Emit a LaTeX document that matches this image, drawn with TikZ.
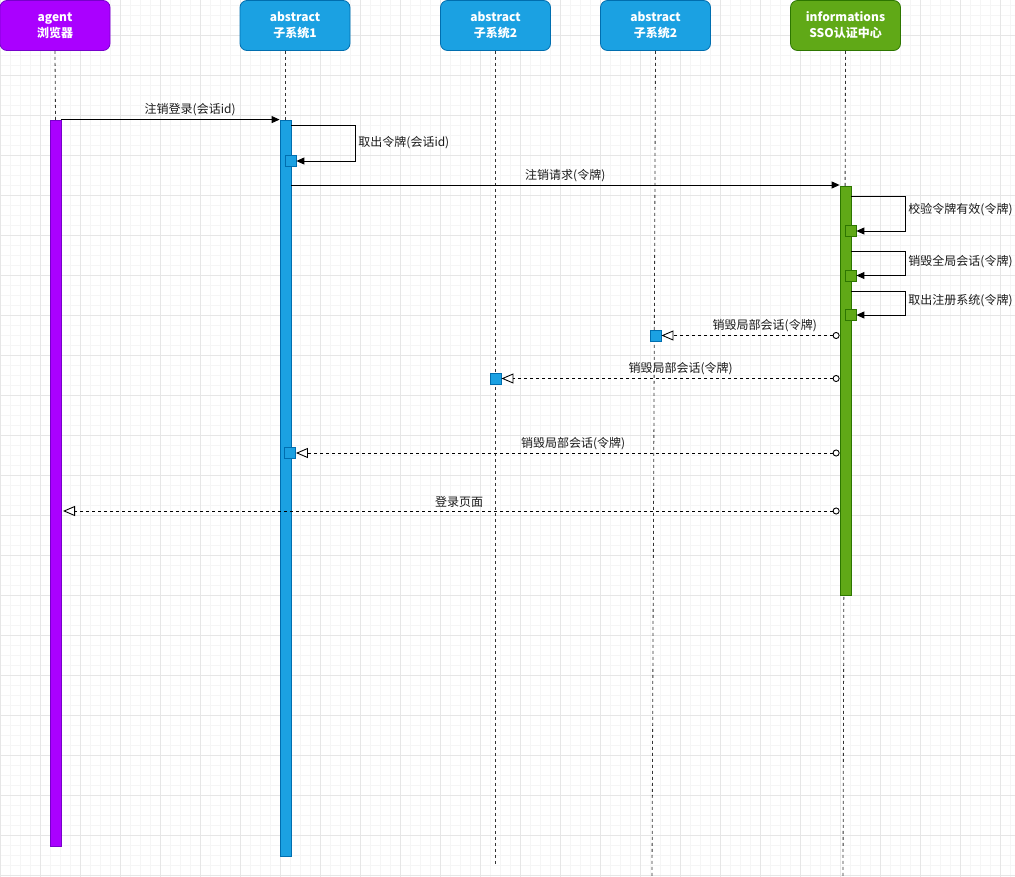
\documentclass[tikz,border=0pt]{standalone}
\usepackage{fontspec}
\setmainfont{Noto Sans CJK SC}
\usetikzlibrary{arrows.meta}
\definecolor{purp}{HTML}{AA00FF}
\definecolor{purpd}{HTML}{7700CC}
\definecolor{blu}{HTML}{1BA1E2}
\definecolor{blud}{HTML}{006EAF}
\definecolor{grn}{HTML}{60A917}
\definecolor{grnd}{HTML}{2D7600}
\definecolor{gmin}{HTML}{F5F5F5}
\definecolor{gmaj}{HTML}{E6E6E6}
\definecolor{txt}{HTML}{1A1A1A}
\begin{document}
\begin{tikzpicture}[x=1pt,y=-1pt,
 head/.style={rounded corners=7pt, minimum width=110pt, minimum height=50pt, inner sep=0pt, text=white, font=\fontsize{12}{16}\selectfont\bfseries, align=center, line width=0.8pt},
 life/.style={draw=black!80, dash pattern=on 3pt off 3pt, line width=0.8pt},
 bar/.style={minimum width=11pt, inner sep=0pt, line width=0.8pt},
 act/.style={minimum width=11pt, minimum height=11pt, inner sep=0pt, line width=0.8pt},
 msg/.style={draw=black, line width=0.9pt, -{Triangle[length=8pt,width=7pt]}},
 ret/.style={draw=black, line width=0.9pt, dash pattern=on 3pt off 3pt, {Circle[open,length=7pt,width=7pt,fill=white]}-{Triangle[open,length=12pt,width=10pt,fill=white]}},
 lbl/.style={font=\fontsize{12}{14}\selectfont, text=txt, inner sep=3pt},
]
\useasboundingbox (0,0) rectangle (1015,877);
\fill[white] (0,0) rectangle (1015,877);
% grid
\foreach \x in {0,10,...,1010} \draw[gmin, line width=0.6pt] (\x,0) -- (\x,877);
\foreach \y in {5,15,...,875} \draw[gmin, line width=0.6pt] (0,\y) -- (1015,\y);
\foreach \x in {0,40,...,1000} \draw[gmaj, line width=0.8pt] (\x,0) -- (\x,877);
\foreach \y in {35,75,...,875} \draw[gmaj, line width=0.8pt] (0,\y) -- (1015,\y);

% heads
\node[head, fill=purp, draw=purpd] (hA) at (55,25.5) {agent\\浏览器};
\node[head, fill=blu, draw=blud] (hB) at (295,25.5) {abstract\\子系统1};
\node[head, fill=blu, draw=blud] (hC) at (495.5,25.5) {abstract\\子系统2};
\node[head, fill=blu, draw=blud] (hD) at (655.5,25.5) {abstract\\子系统2};
\node[head, fill=grn, draw=grnd] (hE) at (845.5,25.5) {informations\\SSO认证中心};

% lifelines
\coordinate (lA) at (55.5,120);
\coordinate (lB) at (285.5,120);
\coordinate (lC) at (495.5,866);
\coordinate (lD) at (652,877);
\coordinate (lE) at (843,877);
\draw[life] (hA.south) -- (lA);
\draw[life] (hB.south -| lB) -- (lB);
\draw[life] (hC.south) -- (lC);
\draw[life] (hD.south) -- (lD);
\draw[life] (hE.south) -- (lE);

% activation bars
\node[bar, fill=purp, draw=purpd, minimum height=726pt] (barA) at (55.5,483) {};
\node[bar, fill=blu, draw=blud, minimum height=736pt] (barB) at (285.5,488) {};
\node[bar, fill=grn, draw=grnd, minimum height=409pt] (barE) at (845.5,390.5) {};

% small activations
\node[act, fill=blu, draw=blud] (sB1) at (290.5,161) {};
\node[act, fill=grn, draw=grnd] (sE1) at (850.5,231) {};
\node[act, fill=grn, draw=grnd] (sE2) at (850.5,275.5) {};
\node[act, fill=grn, draw=grnd] (sE3) at (850.5,315) {};
\node[act, fill=blu, draw=blud] (sD) at (655.5,335.5) {};
\node[act, fill=blu, draw=blud] (sC) at (495.5,378.5) {};
\node[act, fill=blu, draw=blud] (sB2) at (290,453) {};

% messages
\draw[msg] (barA.north east) -- node[lbl, pos=0.59, above] {注销登录(会话id)} (barB.north west);

\coordinate (c1) at (291,125);
\draw[msg] (c1) -- ++(64,0) |- node[lbl, pos=0.25, right] {取出令牌(会话id)} (sB1.east);

\coordinate (c2) at (291,185);
\draw[msg] (c2) -- node[lbl, midway, above] {注销请求(令牌)} (c2 -| barE.west);

\coordinate (c3) at (851,196);
\draw[msg] (c3) -- ++(54,0) |- node[lbl, pos=0.2, right] {校验令牌有效(令牌)} (sE1.east);
\coordinate (c4) at (851,251);
\draw[msg] (c4) -- ++(54,0) |- node[lbl, pos=0.22, right] {销毁全局会话(令牌)} (sE2.east);
\coordinate (c5) at (851,291);
\draw[msg] (c5) -- ++(54,0) |- node[lbl, pos=0.2, right] {取出注册系统(令牌)} (sE3.east);

% returns
\draw[ret] (barE.west |- sD.east) -- node[lbl, pos=0.42, above] {销毁局部会话(令牌)} (sD.east);
\draw[ret] (barE.west |- sC.east) -- node[lbl, pos=0.47, above] {销毁局部会话(令牌)} (sC.east);
\draw[ret] (barE.west |- sB2.east) -- node[lbl, pos=0.49, above] {销毁局部会话(令牌)} (sB2.east);
\coordinate (ag) at (63,511);
\draw[ret] (barE.west |- ag) -- node[lbl, pos=0.49, above] {登录页面} (ag);
\end{tikzpicture}
\end{document}
